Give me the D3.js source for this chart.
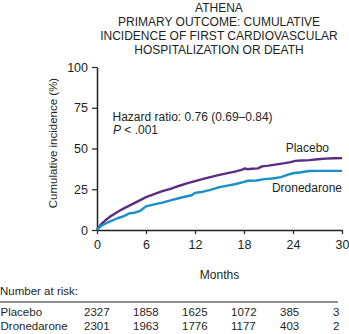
<!DOCTYPE html>
<html>
<head>
<meta charset="utf-8">
<script src="https://cdn.jsdelivr.net/npm/d3@7"></script>
<style>
  html, body { margin: 0; padding: 0; background: #fff; }
  svg { display: block; }
  text { font-family: "Liberation Sans", Arial, Helvetica, sans-serif; fill: #231f20; }
</style>
</head>
<body>
<script>
// ---- Data ----
const titleLines = ["ATHENA", "PRIMARY OUTCOME: CUMULATIVE", "INCIDENCE OF FIRST CARDIOVASCULAR", "HOSPITALIZATION OR DEATH"];
const xTicks = [0, 6, 12, 18, 24, 30];
const yTicks = [0, 25, 50, 75, 100];

const placeboMonths = [0, 0.5, 1, 1.6, 2.5, 3.3, 4.2, 5, 6, 7, 8, 9, 10, 11, 12, 13, 14, 15, 16, 17, 17.8, 18.1, 18.4, 19, 19.7, 20.2, 21, 22, 23, 23.7, 24.3, 25, 26, 27, 28, 29, 30];
const placeboValues = [0, 3.5, 5.8, 8.2, 11, 13.3, 15.6, 17.6, 20.2, 22, 23.8, 25.2, 27, 28.6, 30, 31.4, 32.6, 33.8, 34.9, 36, 37, 37.8, 37.3, 37.6, 37.8, 39, 39.5, 40.3, 41, 41.6, 42.4, 42.6, 42.9, 43.4, 43.8, 44, 44.1];

const droneMonths = [0, 0.5, 1, 1.6, 2.5, 3.3, 4, 4.6, 5.3, 6, 7, 8, 9, 10, 11, 11.6, 12, 13, 14, 15, 16, 17, 18, 18.5, 19.5, 20.5, 21.5, 22.5, 23.4, 24, 25, 26, 27, 28, 30];
const droneValues = [0, 2.5, 3.8, 5.3, 7.2, 8.5, 10.3, 10.6, 11.8, 14.5, 15.7, 16.8, 18.2, 19.5, 20.7, 21.3, 22.8, 23.5, 24.8, 26.3, 27.2, 28.2, 29.5, 30.2, 30.4, 31.2, 31.6, 32.4, 34, 34.8, 35.4, 36.2, 36.3, 36.3, 36.3];

const riskMonths = [0, 6, 12, 18, 24, 30];
const riskPlacebo = [2327, 1858, 1625, 1072, 385, 3];
const riskDrone = [2301, 1963, 1776, 1177, 403, 2];

const seriesNames = ["Placebo", "Dronedarone"];
const colors = ["#5b2d82", "#1a8fc8"];

// ---- Layout ----
const W = 349, H = 334;
const svg = d3.select("body").append("svg").attr("width", W).attr("height", H);

const x = d3.scaleLinear().domain([0, 30]).range([97, 342]);
const y = d3.scaleLinear().domain([0, 100]).range([230, 67]);

// Title
svg.append("g").selectAll("text").data(titleLines).join("text")
  .attr("x", 219).attr("y", (d, i) => 11.5 + i * 14)
  .attr("text-anchor", "middle").attr("font-size", 12).text(d => d);

// Axes
const yAxis = svg.append("g").attr("transform", `translate(${x(0)},0)`)
  .call(d3.axisLeft(y).tickValues(yTicks).tickSize(5).tickPadding(4).tickSizeOuter(0));
const xAxis = svg.append("g").attr("transform", `translate(0,${y(0)})`)
  .call(d3.axisBottom(x).tickValues(xTicks).tickSize(4).tickPadding(6).tickSizeOuter(0));
[yAxis, xAxis].forEach(g => {
  g.select(".domain").attr("stroke", "#231f20").attr("stroke-width", 1.5);
  g.selectAll(".tick line").attr("stroke", "#231f20").attr("stroke-width", 1.2);
  g.selectAll(".tick text").attr("font-size", 12.5).attr("fill", "#231f20")
    .attr("font-family", '"Liberation Sans", Arial, sans-serif');
});
xAxis.selectAll(".tick text").attr("dy", "0.71em");

// Axis labels
svg.append("text").attr("transform", "translate(57,143) rotate(-90)")
  .attr("text-anchor", "middle").attr("font-size", 11.5).text("Cumulative incidence (%)");
svg.append("text").attr("x", 219.5).attr("y", 279)
  .attr("text-anchor", "middle").attr("font-size", 12).text("Months");

// Curves
const line = d3.line().x(d => x(d[0])).y(d => y(d[1]));
const seriesData = [
  d3.zip(placeboMonths, placeboValues),
  d3.zip(droneMonths, droneValues)
];
svg.append("g").selectAll("path").data(seriesData).join("path")
  .attr("d", line).attr("fill", "none")
  .attr("stroke", (d, i) => colors[i]).attr("stroke-width", 2.4)
  .attr("stroke-linejoin", "round");

// Series labels
svg.append("text").attr("x", 329).attr("y", 152).attr("text-anchor", "end")
  .attr("font-size", 12).text(seriesNames[0]);
svg.append("text").attr("x", 342).attr("y", 192).attr("text-anchor", "end")
  .attr("font-size", 12).text(seriesNames[1]);

// Annotation
svg.append("text").attr("x", 112.5).attr("y", 120.5).attr("font-size", 12)
  .text("Hazard ratio: 0.76 (0.69\u20130.84)");
const p = svg.append("text").attr("x", 113).attr("y", 133.5).attr("font-size", 12);
p.append("tspan").attr("font-style", "italic").text("P");
p.append("tspan").text(" < .001");

// Number at risk table
svg.append("text").attr("x", 0).attr("y", 295).attr("font-size", 11.5).text("Number at risk:");
svg.append("line").attr("x1", 0).attr("x2", 338).attr("y1", 302).attr("y2", 302)
  .attr("stroke", "#231f20").attr("stroke-width", 1);

const rows = [riskPlacebo, riskDrone];
rows.forEach((vals, r) => {
  const yy = 316 + r * 14;
  svg.append("text").attr("x", 0.5).attr("y", yy).attr("font-size", 11.5).text(seriesNames[r]);
  svg.append("g").selectAll("text").data(vals).join("text")
    .attr("x", (d, i) => i === vals.length - 1 ? x(riskMonths[i]) - 9 : x(riskMonths[i]) - 13)
    .attr("y", yy).attr("font-size", 11.5).text(d => d);
});
</script>
</body>
</html>
